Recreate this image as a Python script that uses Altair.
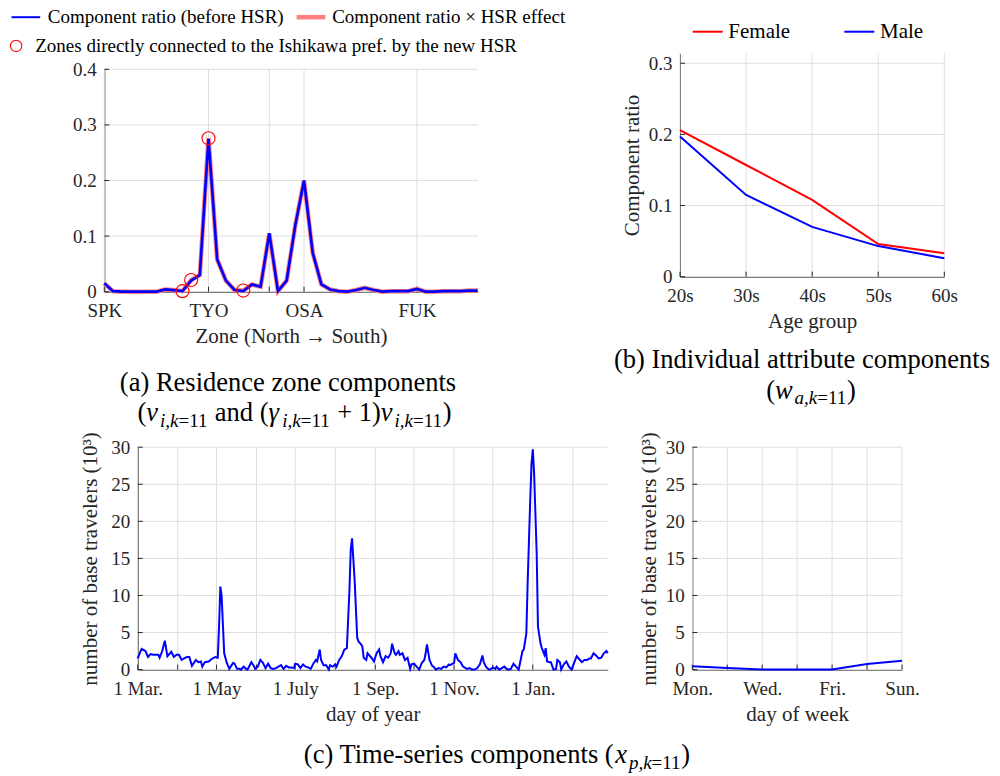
import altair as alt
import pandas as pd

FONT = "Liberation Serif"
AXC = "#262626"
GRIDC = "#dfdfdf"
BLUE = "#0000ff"
RED = "#ff0000"
PINK = "#ff8080"

# ---------------- data ----------------
zone_idx = list(range(44))
zone_before = [0.015, 0.001, 0.0, 0.0, 0.0, 0.0, 0.0, 0.004, 0.003, 0.001,
               0.02, 0.03, 0.275, 0.058, 0.02, 0.003, 0.001, 0.013, 0.009, 0.105,
               0.001, 0.02, 0.12, 0.2, 0.07, 0.013, 0.004, 0.001, 0.0, 0.003,
               0.007, 0.003, 0.0, 0.001, 0.001, 0.001, 0.005, 0.0, 0.0, 0.001,
               0.001, 0.001, 0.002, 0.002]
zone_after = [0.015, 0.001, 0.0, 0.0, 0.0, 0.0, 0.0, 0.004, 0.003, 0.001,
              0.021, 0.03, 0.276, 0.058, 0.02, 0.003, 0.002, 0.013, 0.009, 0.105,
              0.001, 0.02, 0.12, 0.2, 0.07, 0.013, 0.004, 0.001, 0.0, 0.003,
              0.007, 0.003, 0.0, 0.001, 0.001, 0.001, 0.005, 0.0, 0.0, 0.001,
              0.001, 0.001, 0.002, 0.002]
hsr_zones = [9, 10, 12, 16]
zone_tick_idx = [0, 12, 19, 23, 36]
zone_tick_lbl = ["SPK", "TYO", "", "OSA", "FUK"]
ratio_ticks_a = [0, 0.1, 0.2, 0.3, 0.4]

age_groups = ["20s", "30s", "40s", "50s", "60s"]
female_ratio = [0.206, 0.157, 0.108, 0.046, 0.033]
male_ratio = [0.197, 0.115, 0.070, 0.043, 0.026]
ratio_ticks_b = [0, 0.1, 0.2, 0.3]

month_start = [0, 31, 61, 92, 122, 153, 184, 214, 245, 275, 306, 337]
month_lbl = ["1 Mar.", "", "1 May", "", "1 July", "", "1 Sep.", "", "1 Nov.", "", "1 Jan.", ""]

doy_day = [0, 3, 6, 8, 10, 12, 14, 16, 17, 19, 21, 23, 26, 28, 30, 32, 34, 36, 38, 40,
           42, 45, 47, 49, 50, 52, 55, 57, 60, 62, 63, 64, 65, 67, 69, 71, 72, 74, 75, 77, 79,
           80, 82, 84, 85, 88, 90, 91, 93, 95, 97, 99, 101, 103, 105, 107, 109, 111, 113, 115, 117,
           119, 121, 122, 124, 126, 128, 130, 132, 134, 136, 138, 139, 141, 142, 144, 146, 148, 149,
           151, 153, 154, 156, 158, 160, 162, 164, 165, 166, 168, 170, 171,
           173, 174, 175, 177, 178, 180, 181, 183, 185, 187, 188, 190, 192, 194, 196, 197, 199, 200,
           202, 203, 205, 207, 209, 211, 212, 214, 216, 218, 220, 222, 223, 224, 226, 228, 229, 231,
           233, 235, 237, 239, 241, 242, 245, 246, 248, 250, 252, 254, 255, 257, 259, 261, 263, 265,
           267, 268, 270, 272,
           273, 275, 277, 278, 280, 282, 284, 285, 287, 289, 291, 293, 295, 296, 298, 299, 301, 302,
           304, 305, 306, 307, 309, 310, 312, 313, 315, 316, 317, 319, 320, 322, 324, 325, 327, 328,
           330, 332, 334, 336, 338, 340, 342, 344, 346, 348, 350, 351, 353, 355, 357, 359, 361, 363, 364]
doy_travelers = [1.5, 2.8, 2.5, 1.7, 2.1, 2.0, 2.0, 2.0, 1.6, 2.5, 3.9, 1.8, 2.4, 1.7, 2.0, 2.0, 1.3, 1.5, 1.7, 1.7,
                 0.5, 1.3, 1.0, 1.1, 0.4, 1.0, 1.1, 1.4, 1.7, 1.6, 5.8, 11.2, 9.9, 2.2, 0.9, 0.1, 0.4, 0.9, 0.8, 0.1, 0.1,
                 0.0, 0.4, 0.1, 0.0, 1.0, 0.5, 0.1, 0.4, 1.3, 0.9, 0.2, 0.8, 0.2, 0.1, 0.2, 0.4, 0.6, 0.1, 0.5, 0.3,
                 0.3, 0.2, 0.8, 0.7, 0.2, 0.7, 0.4, 0.3, 0.1, 0.8, 1.3, 1.1, 2.7, 1.3, 0.6, 0.6, 0.0, 0.6,
                 0.4, 0.7, 0.4, 1.3, 1.8, 2.7, 2.9, 10.8, 16.2, 17.7, 12.1, 4.3, 3.8,
                 3.4, 3.1, 1.6, 1.3, 2.2, 1.8, 1.6, 1.1, 2.2, 2.7, 1.8, 1.0, 1.8, 1.6, 2.2, 3.5, 2.2, 2.0,
                 2.5, 2.0, 2.2, 1.3, 1.6, 0.1, 0.7, 0.8, 0.4, 0.0, 0.9, 1.3, 2.2, 3.4, 1.3, 0.5, 0.4, 0.0,
                 0.2, 0.1, 0.4, 0.3, 0.7, 0.6, 0.9, 2.2, 1.3, 1.0, 0.4, 0.2, 0.1, 0.2, 0.0, 0.0, 0.2, 0.7,
                 1.9, 1.0, 0.3, 0.0,
                 0.0, 0.3, 0.1, 0.4, 0.0, 0.2, 0.4, 0.2, 0.0, 0.1, 0.8, 0.4, 0.0, 0.8, 2.5, 2.7, 4.9, 11.7,
                 22.9, 27.8, 29.7, 26.5, 15.7, 5.8, 3.5, 2.9, 2.0, 2.9, 1.1, 1.0, 1.0, 0.0, 0.1, 1.3, 1.0, 0.0,
                 0.7, 1.1, 0.4, 0.0, 0.9, 1.8, 1.4, 1.0, 1.3, 1.3, 1.5, 1.5, 2.2, 1.9, 1.5, 1.6, 2.2, 2.5, 2.2]

weekday_lbl = ["Mon.", "", "Wed.", "", "Fri.", "", "Sun."]
week_travelers = [0.45, 0.23, 0.02, 0.02, 0.02, 0.75, 1.18]
traveler_ticks = [0, 5, 10, 15, 20, 25, 30]

# ---------------- layout (canvas px) ----------------
W, H = 1000, 776
# plot boxes: (left, right, top, bottom)
BOX_A = (104.3, 477.7, 69.3, 291.7)
BOX_B = (680.0, 944.3, 53.3, 276.7)
BOX_C1 = (137.7, 607.7, 447.2, 669.6)
BOX_C2 = (692.3, 902.0, 447.2, 669.6)
TICK = 5

DUMMY = pd.DataFrame({"d": [0]})
MAIN, SUB, SUB_SHIFT = 26.5, 19, 5.5

W_ROMAN = {"(": 0.333, ")": 0.333, " ": 0.25, "+": 0.564, "=": 0.564, "1": 0.5, ",": 0.25,
           "a": 0.444, "b": 0.5, "c": 0.444, "d": 0.5, "e": 0.444, "i": 0.278, "m": 0.778,
           "n": 0.5, "o": 0.5, "p": 0.5, "r": 0.333, "s": 0.389, "t": 0.278, "T": 0.611, "-": 0.333}
W_ITAL = {"v": 0.52, "w": 0.74, "x": 0.52, "i": 0.278, "k": 0.444, "p": 0.5, "a": 0.5,
          "\u03b3": 0.52, ",": 0.25}


def txt(s, x, y, size, style="normal", align="left", baseline="alphabetic", color="black"):
    return alt.Chart(DUMMY).mark_text(
        text=s, font=FONT, fontSize=size, fontStyle=style, align=align,
        baseline=baseline, color=color
    ).encode(x=alt.value(x), y=alt.value(y))


def piece_w(s, size, ital):
    t = W_ITAL if ital else W_ROMAN
    return sum(t.get(ch, W_ROMAN.get(ch, 0.5)) for ch in s) * size


def math_line(pieces, cx, base):
    sizes = [(SUB if sub else MAIN) for _, _, sub in pieces]
    widths = [piece_w(t, sz, it) for (t, it, sub), sz in zip(pieces, sizes)]
    x = cx - sum(widths) / 2
    out = []
    for (t, it, sub), sz, w in zip(pieces, sizes, widths):
        s = t.strip()
        if s:
            lead = piece_w(t[: len(t) - len(t.lstrip())], sz, it)
            out.append(txt(s, x + lead, base + (SUB_SHIFT if sub else 0), sz,
                           style="italic" if it else "normal"))
        x += w
    return out


def hrule(x1, x2, y, color, width):
    return alt.Chart(DUMMY).mark_rule(color=color, strokeWidth=width).encode(
        x=alt.value(x1), x2=alt.value(x2), y=alt.value(y))


def label_expr(vals, lbls):
    v = "[" + ",".join(str(a) for a in vals) + "]"
    l = "[" + ",".join("'" + a + "'" for a in lbls) + "]"
    return f"indexof({v}, datum.value) >= 0 ? {l}[indexof({v}, datum.value)] : ''"


def xenc(field, dom, box, values, expr, title):
    return alt.X(field, scale=alt.Scale(domain=dom, range=[box[0], box[1]], nice=False, zero=False),
                 axis=alt.Axis(orient="bottom", offset=-(H - box[3]), values=values,
                               labelExpr=expr, title=title))


def yenc(field, dom, box, values, title, fmt=None, title_pad=6):
    kw = dict(orient="left", offset=-box[0], values=values, title=title, titlePadding=title_pad)
    if fmt:
        kw["format"] = fmt
    return alt.Y(field, scale=alt.Scale(domain=dom, range=[box[3], box[2]], nice=False, zero=False),
                 axis=alt.Axis(**kw))


def grid_and_ticks(xfield, xvals, xe, yfield, yvals, ye, box):
    """Grid lines and inward ticks, placed through the panel's own scales."""
    dx = pd.DataFrame({xfield: xvals})
    dy = pd.DataFrame({yfield: yvals})
    return [
        alt.Chart(dx).mark_rule(color=GRIDC, strokeWidth=1).encode(
            x=xe, y=alt.value(box[2]), y2=alt.value(box[3])),
        alt.Chart(dy).mark_rule(color=GRIDC, strokeWidth=1).encode(
            y=ye, x=alt.value(box[0]), x2=alt.value(box[1])),
        alt.Chart(dx).mark_rule(color=AXC, strokeWidth=1).encode(
            x=xe, y=alt.value(box[3]), y2=alt.value(box[3] - TICK)),
        alt.Chart(dy).mark_rule(color=AXC, strokeWidth=1).encode(
            y=ye, x=alt.value(box[0]), x2=alt.value(box[0] + TICK)),
    ]


# ---------------- panel (a) ----------------
df_a_long = pd.concat([
    pd.DataFrame({"zone": zone_idx, "val": zone_after, "s": "after"}),
    pd.DataFrame({"zone": zone_idx, "val": zone_before, "s": "before"}),
])

xa = xenc("zone:Q", [0, 43], BOX_A, zone_tick_idx, label_expr(zone_tick_idx, zone_tick_lbl),
          "Zone (North \u2192 South)")
ya = yenc("val:Q", [0, 0.4], BOX_A, ratio_ticks_a, None, ".1~f")

a_after = alt.Chart(df_a_long).transform_filter("datum.s == 'after'").mark_line(
    color=PINK, strokeWidth=4.5).encode(x=xa, y=ya)
a_before = alt.Chart(df_a_long).transform_filter("datum.s == 'before'").mark_line(
    color=BLUE, strokeWidth=2.7).encode(x=xa, y=ya)
a_circ = alt.Chart(df_a_long).transform_filter(
    "datum.s == 'after' && indexof([" + ",".join(str(z) for z in hsr_zones) + "], datum.zone) >= 0"
).mark_point(shape="circle", filled=False, color=RED, size=170, strokeWidth=1.1, opacity=1).encode(
    x=xa, y=ya)
panel_a = alt.layer(*grid_and_ticks("zone", zone_tick_idx, xa, "val", ratio_ticks_a, ya, BOX_A),
                    a_after, a_before, a_circ)

# ---------------- panel (b) ----------------
df_b = pd.DataFrame({
    "age": list(range(5)) * 2,
    "ratio": female_ratio + male_ratio,
    "sex": ["Female"] * 5 + ["Male"] * 5,
})
xb = xenc("age:Q", [0, 4], BOX_B, list(range(5)),
          "[" + ",".join("'" + a + "'" for a in age_groups) + "][datum.value]", "Age group")
yb = yenc("ratio:Q", [0, 0.314], BOX_B, ratio_ticks_b, "Component ratio", ".1~f")
b_line = alt.Chart(df_b).mark_line(strokeWidth=2).encode(
    x=xb, y=yb,
    color=alt.Color("sex:N", scale=alt.Scale(domain=["Female", "Male"], range=[RED, BLUE]), legend=None),
)
panel_b = alt.layer(*grid_and_ticks("age", list(range(5)), xb, "ratio", ratio_ticks_b, yb, BOX_B),
                    b_line)

# ---------------- panel (c) ----------------
YT = "number of base travelers (10\u00b3)"
df_c1 = pd.DataFrame({"day": doy_day, "v": doy_travelers})
xc1 = xenc("day:Q", [0, 364], BOX_C1, month_start, label_expr(month_start, month_lbl), "day of year")
yc1 = yenc("v:Q", [0, 30], BOX_C1, traveler_ticks, YT, title_pad=10)
panel_c1 = alt.layer(
    *grid_and_ticks("day", month_start, xc1, "v", traveler_ticks, yc1, BOX_C1),
    alt.Chart(df_c1).mark_line(color=BLUE, strokeWidth=2).encode(x=xc1, y=yc1))

df_c2 = pd.DataFrame({"wd": list(range(7)), "v": week_travelers})
xc2 = xenc("wd:Q", [0, 6], BOX_C2, list(range(7)),
           "[" + ",".join("'" + a + "'" for a in weekday_lbl) + "][datum.value]", "day of week")
yc2 = yenc("v:Q", [0, 30], BOX_C2, traveler_ticks, YT)
panel_c2 = alt.layer(
    *grid_and_ticks("wd", list(range(7)), xc2, "v", traveler_ticks, yc2, BOX_C2),
    alt.Chart(df_c2).mark_line(color=BLUE, strokeWidth=2).encode(x=xc2, y=yc2))

# ---------------- legends and captions ----------------
notes = [
    # legend (a)
    hrule(11.5, 40.2, 17.2, BLUE, 2),
    txt("Component ratio (before HSR)", 47.8, 17.2, 19, baseline="middle"),
    hrule(296.6, 325.3, 17.2, PINK, 4.5),
    txt("Component ratio \u00d7 HSR effect", 332.2, 17.2, 19, baseline="middle"),
    alt.Chart(DUMMY).mark_point(shape="circle", filled=False, color=RED, size=130, strokeWidth=1.1,
                                opacity=1).encode(x=alt.value(16.1), y=alt.value(45.9)),
    txt("Zones directly connected to the Ishikawa pref. by the new HSR", 35.2, 45.9, 19,
        baseline="middle"),
    # legend (b)
    hrule(692.7, 722.7, 31.7, RED, 2),
    txt("Female", 728.3, 31.7, 21, baseline="middle"),
    hrule(844.3, 874.3, 31.7, BLUE, 2),
    txt("Male", 880.0, 31.7, 21, baseline="middle"),
    # captions
    txt("(a) Residence zone components", 288, 390.5, MAIN, align="center"),
    txt("(b) Individual attribute components", 802, 368, MAIN, align="center"),
]
notes += math_line([("(", False, False), ("v", True, False), ("i,k", True, True), ("=11", False, True),
                    (" and (", False, False), ("\u03b3", True, False), ("i,k", True, True),
                    ("=11", False, True), (" + 1)", False, False), ("v", True, False),
                    ("i,k", True, True), ("=11", False, True), (")", False, False)],
                   294.5, 421)
notes += math_line([("(", False, False), ("w", True, False), ("a,k", True, True), ("=11", False, True),
                    (")", False, False)], 811, 398.5)
notes += math_line([("(c) Time-series components (", False, False), ("x", True, False),
                    ("p,k", True, True), ("=11", False, True), (")", False, False)],
                   497, 763)
# invisible frame spanning the whole canvas
notes.append(alt.Chart(DUMMY).mark_rule(strokeOpacity=0).encode(
    x=alt.value(0), x2=alt.value(W), y=alt.value(0), y2=alt.value(H)))

chart = alt.layer(panel_a, panel_b, panel_c1, panel_c2, *notes).resolve_scale(
    x="independent", y="independent"
).resolve_axis(
    x="independent", y="independent"
).properties(
    width=W, height=H, padding=0, background="white"
).configure(font=FONT).configure_view(stroke=None).configure_axis(
    domainColor=AXC, domainWidth=1, labelColor=AXC, labelFont=FONT, labelFontSize=19,
    titleFont=FONT, titleFontSize=21, titleFontWeight="normal", titleColor=AXC,
    grid=False, ticks=False, tickSize=0, labelFlush=False, labelOverlap=False,
).configure_axisX(labelPadding=10, titlePadding=5).configure_axisY(labelPadding=8)

chart.save("out.html", embed_options={"renderer": "svg", "actions": False})
